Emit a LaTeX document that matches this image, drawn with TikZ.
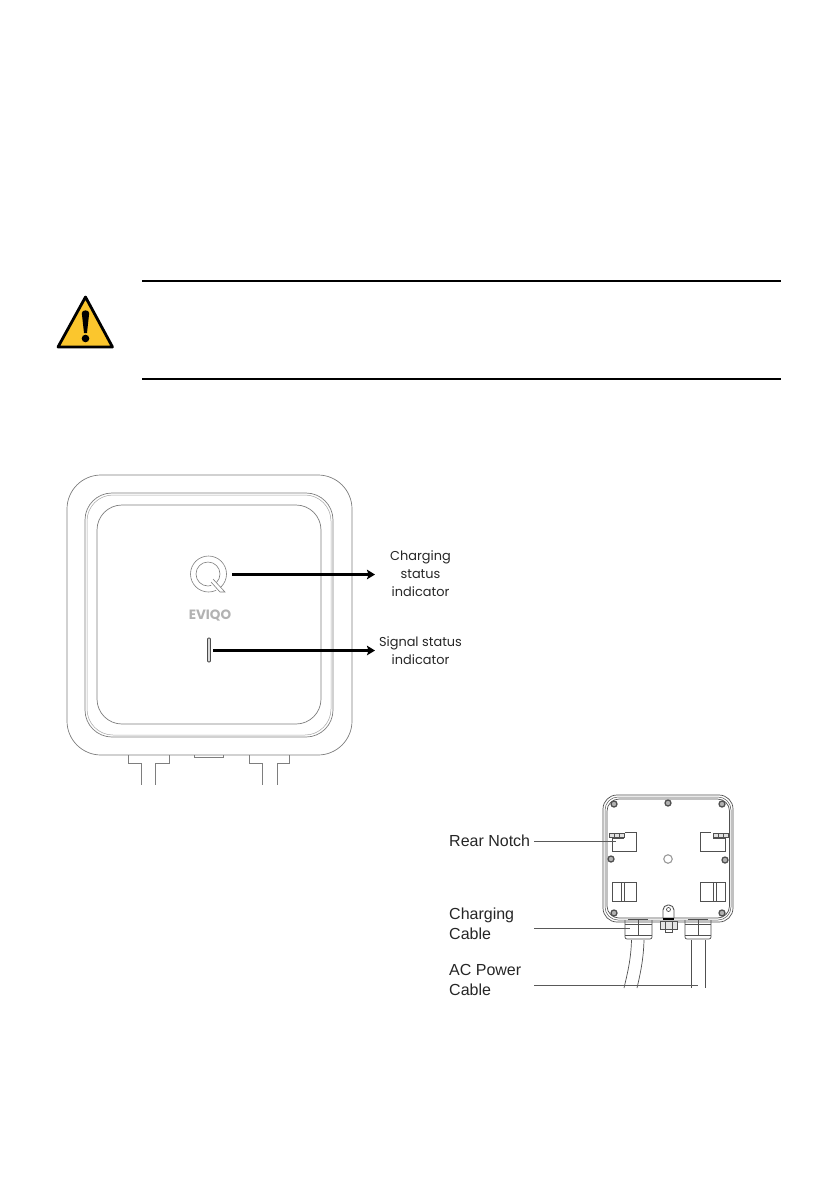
\documentclass[tikz,border=0pt]{standalone}
\usepackage{fontspec}
\setmainfont{Liberation Sans}
\newfontfamily\gothamlike{Poppins}
\usetikzlibrary{arrows.meta}
\definecolor{warnyellow}{HTML}{FBC62D}
\definecolor{devline}{HTML}{7E7E7E}
\definecolor{rearline}{HTML}{505050}
\tikzset{
  rule/.style={line width=1.8pt,black},
  devshape/.style={draw=devline,line width=0.7pt},
  pointer/.style={line width=2.3pt,black,-{Stealth[length=8pt,width=9.5pt,inset=1.5pt]}},
  frontlabel/.style={font=\gothamlike\fontsize{12.9}{18}\selectfont,text=black!85,align=center,inner sep=0pt},
  reartext/.style={font=\fontsize{16}{20}\selectfont,text=black!85,align=left,inner sep=0pt,anchor=west},
  leader/.style={draw=black!65,line width=0.6pt},
  rearshape/.style={draw=rearline,line width=0.7pt},
  screw/.style={draw=rearline,fill=black!30,line width=1.3pt,circle,minimum size=6pt,inner sep=0pt}
}
\begin{document}
\begin{tikzpicture}[x=1pt,y=-1pt]
\useasboundingbox (0,0) rectangle (838,1192);
% warning rules and icon
\coordinate (ruleAa) at (142,281); \coordinate (ruleAb) at (781,281);
\coordinate (ruleBa) at (142,379); \coordinate (ruleBb) at (781,379);
\draw[rule] (ruleAa) -- (ruleAb);
\draw[rule] (ruleBa) -- (ruleBb);
\draw[fill=warnyellow,draw=black,line width=2.8pt,line join=round] (85.5,297) -- (112.5,347) -- (58,347) -- cycle;
\fill[black] (81.8,313) .. controls (82,309.5) and (89,309.5) .. (89.2,313) -- (87,333) -- (84,333) -- cycle;
\fill[black] (85.5,338.5) circle (3.8);
% front view housing
\draw[devshape,rounded corners=34pt] (67,475) rectangle (352,755);
\draw[devshape,rounded corners=27pt] (85,493) rectangle (333,737);
\draw[draw=devline!70,line width=0.5pt,rounded corners=26pt] (87,495) rectangle (331,735);
\draw[devshape,rounded corners=25pt] (97,505) rectangle (321,724);
% front view glands
\draw[devshape] (128,755) -- (128,763) -- (141,763) -- (141,785);
\draw[devshape] (169,755) -- (169,763) -- (155,763) -- (155,785);
\draw[devshape] (194,755) -- (194,757.5) -- (223,757.5) -- (223,755);
\draw[devshape] (249,755) -- (249,763) -- (262,763) -- (262,785);
\draw[devshape] (289,755) -- (289,763) -- (277,763) -- (277,785);
% Q logo
\draw[draw=devline,line width=0.6pt] (208.5,574) circle (18);
\draw[draw=devline,line width=0.6pt] (208,574) circle (12);
\fill[white] (213,579) -- (225,592) -- (218,592) -- (208,582) -- cycle;
\draw[draw=devline,line width=0.6pt] (213,579) -- (225,592) -- (220,592) -- (211,582);
\node[font=\gothamlike\bfseries\fontsize{13.5}{13.5}\selectfont,text=black!30,inner sep=0pt] (eviqo) at (210,615) {EVIQO};
% signal bar and arrows
\coordinate (logoEnd) at (232,574.5);
\node[draw=black!70,fill=black!15,line width=0.8pt,rounded corners=1pt,minimum width=3pt,minimum height=24pt,inner sep=0pt] (sigbar) at (209,650) {};
\coordinate (arrowA) at (375,574.5);
\coordinate (arrowB) at (375,650.5);
\coordinate (sigStart) at (213,650.5);
\draw[pointer] (logoEnd) -- (arrowA);
\draw[pointer] (sigStart) -- (arrowB);
\node[frontlabel] (chglab) at (420.5,574) {Charging\\status\\indicator};
\node[frontlabel] (siglab) at (420.5,651) {Signal status\\indicator};
% rear view body
\draw[rearshape,rounded corners=14pt] (603,795) rectangle (733,922);
\draw[rearshape,line width=0.5pt,rounded corners=13pt] (605,797) rectangle (731,920);
\draw[rearshape,rounded corners=12pt] (607,799) rectangle (729.5,918);
% screws
\foreach \n/\px/\py in {a/614/804,b/668/803,c/722/804,d/611/859,e/725/860,f/614/913,g/722/913}{
  \node[screw] (screw\n) at (\px,\py) {};
}
\node[draw=black!40,line width=1.1pt,circle,minimum size=8.5pt,inner sep=0pt] (centre) at (668,859) {};
% notches
\draw[rearshape,line width=0.9pt] (625,832) -- (636,832) -- (636,851) -- (612,851) -- (612,838) -- (624,838);
\draw[rearshape,fill=black!12] (609,833) rectangle (614,837.5);
\draw[rearshape,fill=black!12] (614,833) rectangle (619,837.5);
\draw[rearshape,fill=black!12] (619,833) rectangle (624,837.5);
\draw[rearshape,line width=0.9pt] (711,832) -- (700,832) -- (700,851) -- (725,851) -- (725,838) -- (713,838);
\draw[rearshape,fill=black!12] (713,833) rectangle (718,837.5);
\draw[rearshape,fill=black!12] (718,833) rectangle (723,837.5);
\draw[rearshape,fill=black!12] (723,833) rectangle (728,837.5);
% lower clips
\draw[rearshape,line width=0.9pt] (612,882) rectangle (636,901);
\draw[rearshape] (621,882) -- (621,901) (624,882) -- (624,901);
\draw[rearshape,line width=0.9pt] (700,882) rectangle (725,901);
\draw[rearshape] (713,882) -- (713,901) (716,882) -- (716,901);
% lug and nut
\draw[rearshape,line width=0.9pt,rounded corners=5pt] (663,918) -- (663,905) -- (674,905) -- (674,918);
\draw[rearshape] (668.5,909.5) circle (2);
\draw[black,line width=1.6pt] (663,919) -- (674,919);
\draw[rearshape,fill=black!10] (660,921) rectangle (677,929);
\draw[rearshape] (665,921) -- (665,929) (672,921) -- (672,929);
\draw[rearshape] (665,929) -- (665,932) -- (672,932) -- (672,929);
% glands
\draw[rearshape,rounded corners=2pt] (625,920) -- (625,939) -- (652,939) -- (652,920);
\draw[rearshape] (628,919) -- (648,919) (625,924) -- (652,924) (625,935) -- (652,935) (638.5,919) -- (638.5,935);
\draw[rearshape,rounded corners=2pt] (685,920) -- (685,939) -- (711,939) -- (711,920);
\draw[rearshape] (688,919) -- (708,919) (685,924) -- (711,924) (685,935) -- (711,935) (698,919) -- (698,935);
% cables
\draw[rearshape] (631.5,940) .. controls (631,960) and (627,975) .. (624,988);
\draw[rearshape] (644,940) .. controls (643.5,960) and (640,975) .. (637,988);
\draw[rearshape] (691,940) -- (691,988);
\draw[rearshape] (705,940) -- (705,988);
% labels and leaders
\node[reartext] (notchlab) at (449,840.5) {Rear Notch};
\node[reartext] (chgcab) at (449,924) {Charging\\Cable};
\node[reartext] (accab) at (449,979.5) {AC Power\\Cable};
\coordinate (ldA) at (534,841); \coordinate (ldAe) at (616,841);
\coordinate (ldB) at (534,928.5); \coordinate (ldBe) at (630,928.5);
\coordinate (ldC) at (534,985); \coordinate (ldCe) at (698,985);
\draw[leader] (ldA) -- (ldAe);
\draw[leader] (ldB) -- (ldBe);
\draw[leader] (ldC) -- (ldCe);
\end{tikzpicture}
\end{document}
